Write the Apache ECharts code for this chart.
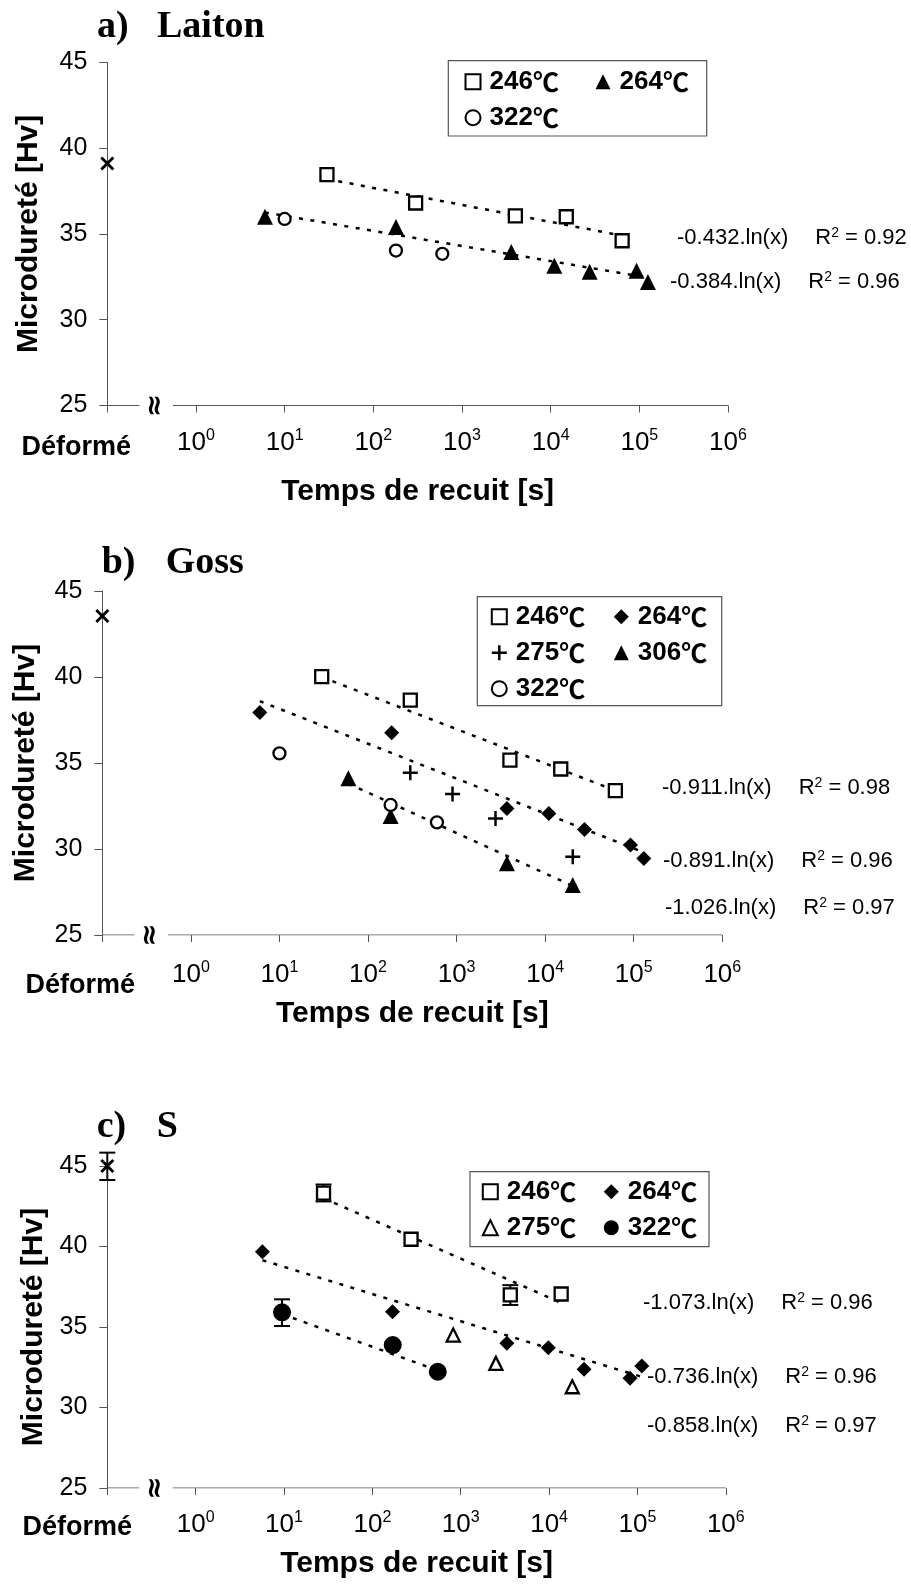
<!DOCTYPE html>
<html>
<head>
<meta charset="utf-8">
<title>Microdureté - temps de recuit</title>
<script src="https://cdn.jsdelivr.net/npm/echarts@6/dist/echarts.min.js"></script>
<style>
html, body { margin: 0; padding: 0; background: #fff; }
#chart { width: 911px; height: 1587px; }
</style>
</head>
<body>
<div id="chart"></div>
<script>
// ---- données : [temps (s), Hv] ----
// a) Laiton
const aDeforme = [[0.1, 39.1]];
const a246 = [[30, 38.45], [300, 36.8], [4000, 36.05], [15000, 36.0], [64000, 34.6]];
const a264 = [[6, 36.0], [180, 35.4], [3600, 33.95], [11000, 33.15], [27500, 32.8], [93000, 32.85], [125000, 32.2]];
const a322 = [[10, 35.87], [180, 34.03], [600, 33.84]];
const a246Trend = [[30, 38.2], [64000, 34.9]];
const a264Trend = [[6, 36.25], [125000, 32.45]];
const aEq = [['-0.432', '0.92'], ['-0.384', '0.96']];

// b) Goss
const bDeforme = [[0.1, 43.55]];
const b246 = [[30, 40.02], [300, 38.66], [4000, 35.17], [15000, 34.65], [62000, 33.39]];
const b264 = [[6, 37.93], [185, 36.76], [3700, 32.36], [11000, 32.07], [27800, 31.14], [92000, 30.23], [130000, 29.45]];
const b275 = [[300, 34.44], [900, 33.2], [2750, 31.78], [20500, 29.55]];
const b306 = [[60, 34.11], [180, 31.92], [3700, 29.17], [20500, 27.9]];
const b322 = [[10, 35.56], [180, 32.56], [600, 31.55]];
const b246Trend = [[30, 40.0], [62000, 33.4]];
const b264Trend = [[6, 38.6], [130000, 29.8]];
const b306Trend = [[60, 33.8], [20500, 27.85]];
const bEq = [['-0.911', '0.98'], ['-0.891', '0.96'], ['-1.026', '0.97']];

// c) S
const cDeforme = [[0.1, 45.0]];
const c246 = [[28, 43.32], [274, 40.45], [3640, 36.99], [13700, 37.05]];
const c264 = [[5.7, 39.68], [169, 35.95], [3330, 33.99], [9800, 33.71], [24900, 32.37], [82400, 31.81], [112000, 32.58]];
const c275 = [[822, 34.5], [2500, 32.74], [18300, 31.29]];
const c322 = [[9.5, 35.91], [170, 33.88], [550, 32.22]];
// barres d'erreur : [temps, min, max]
const cErr = [[0.1, 44.13, 45.83], [28, 42.8, 43.85], [3640, 36.37, 37.6], [9.5, 35.06, 36.72]];
const c246Trend = [[28, 43.0], [13700, 36.5]];
const c264Trend = [[5.7, 39.15], [112000, 31.9]];
const c322Trend = [[9.5, 35.8], [550, 32.3]];
const cEq = [['-1.073', '0.96'], ['-0.736', '0.96'], ['-0.858', '0.97']];

// axes
const yTicks = [25, 45, 5];          // min, max, pas
const xRange = [0.1, 1e6];
const xBreak = [0.23, 0.55];        // coupure de l'axe entre "Déformé" et 10^0
const deformeLabel = 'Déformé';

const FONT = "'Liberation Sans', Arial, 'Noto Sans CJK SC', sans-serif";
const CJK = "'Noto Sans CJK SC', sans-serif";
const SERIF = "'Liberation Serif', 'Times New Roman', serif";
const PLUS = 'path://M5,0H7V5H12V7H7V12H5V7H0V5H5Z';
const AXIS = '#555';

const panels = [
    {
        key: 'a', title: ['a)', 'Laiton'], titlePos: [97, 157, 27],
        grid: { left: 107.3, top: 62.3, width: 620.7, height: 343.2 },
        labelMargin: 22, defOffset: [-31, 42], yNameGap: 64, xNameGap: 71,
        legend: { left: 464.5, top: 67.7, textW: 95 }, box: [448.3, 60.7, 258.4, 75.3],
        points: [
            ['246', a246, 'rect', 13, true],
            ['264', a264, 'triangle', 16, false],
            ['322', a322, 'circle', 12, true]
        ],
        trends: [a246Trend, a264Trend], deforme: aDeforme, err: null,
        eq: aEq, eqPos: [[677, 238], [670, 282]]
    },
    {
        key: 'b', title: ['b)', 'Goss'], titlePos: [101.7, 165.7, 563],
        grid: { left: 102.3, top: 591, width: 620, height: 344 },
        labelMargin: 25, defOffset: [-22, 51], yNameGap: 62, xNameGap: 64,
        legend: { left: 490.8, top: 602.7, textW: 87 }, box: [477.3, 596.7, 244.4, 109],
        points: [
            ['246', b246, 'rect', 13, true],
            ['264', b264, 'diamond', 15, false],
            ['275', b275, PLUS, 15, false],
            ['306', b306, 'triangle', 16, false],
            ['322', b322, 'circle', 12, true]
        ],
        trends: [b246Trend, b264Trend, b306Trend], deforme: bDeforme, err: null,
        eq: bEq, eqPos: [[662, 788], [663, 861], [665, 908]]
    },
    {
        key: 'c', title: ['c)', 'S'], titlePos: [96.7, 156.7, 1127],
        grid: { left: 107.3, top: 1166, width: 618.5, height: 322 },
        labelMargin: 22, defOffset: [-30, 40], yNameGap: 55, xNameGap: 61,
        legend: { left: 481.8, top: 1177.7, textW: 86 }, box: [470, 1171.7, 239, 75],
        points: [
            ['246', c246, 'rect', 13, true],
            ['264', c264, 'diamond', 15, false],
            ['275', c275, 'triangle', 13, true],
            ['322', c322, 'circle', 18, false]
        ],
        trends: [c246Trend, c264Trend, c322Trend], deforme: cDeforme, err: cErr,
        eq: cEq, eqPos: [[643, 1303], [647, 1377], [647, 1426]]
    }
];

// barre d'erreur verticale avec deux petits traits
function errorBar(params, api) {
    const lo = api.coord([api.value(0), api.value(1)]);
    const hi = api.coord([api.value(0), api.value(2)]);
    const w = 8;
    const st = { stroke: '#000', lineWidth: 2 };
    return {
        type: 'group',
        children: [
            { type: 'line', shape: { x1: lo[0], y1: lo[1], x2: hi[0], y2: hi[1] }, style: st },
            { type: 'line', shape: { x1: lo[0] - w, y1: lo[1], x2: lo[0] + w, y2: lo[1] }, style: st },
            { type: 'line', shape: { x1: hi[0] - w, y1: hi[1], x2: hi[0] + w, y2: hi[1] }, style: st }
        ]
    };
}

const option = {
    animation: false,
    backgroundColor: '#fff',
    grid: [], xAxis: [], yAxis: [], legend: [], series: [], graphic: []
};

panels.forEach(function (p, i) {
    option.grid.push(p.grid);

    option.xAxis.push({
        type: 'log', logBase: 10, gridIndex: i,
        min: xRange[0], max: xRange[1], splitNumber: 10,
        axisLine: { show: false },
        splitLine: { show: false },
        axisTick: { show: true, length: 7, lineStyle: { color: AXIS } },
        axisLabel: {
            interval: 0, margin: p.labelMargin, color: '#000',
            showMinLabel: true, showMaxLabel: true, hideOverlap: false,
            // la graduation "Déformé" reçoit son texte à part (décalé à gauche)
            formatter: function (v) {
                const e = Math.round(Math.log10(v));
                return e < 0 ? '' : '{b|10}{s|' + e + '}';
            },
            rich: {
                b: { fontSize: 26, fontFamily: FONT, lineHeight: 30, color: '#000' },
                s: { fontSize: 16, fontFamily: FONT, lineHeight: 16, verticalAlign: 'top', color: '#000' }
            }
        },
        name: 'Temps de recuit [s]', nameLocation: 'middle', nameGap: p.xNameGap,
        nameTextStyle: { fontSize: 30, fontWeight: 'bold', fontFamily: FONT, color: '#000' }
    });

    option.yAxis.push({
        type: 'value', gridIndex: i,
        min: yTicks[0], max: yTicks[1], interval: yTicks[2],
        axisLine: { show: true, lineStyle: { color: AXIS, width: 1 } },
        axisTick: { show: true, length: 8, lineStyle: { color: AXIS } },
        splitLine: { show: false },
        axisLabel: { margin: 20, fontSize: 25, fontFamily: FONT, color: '#000' },
        name: 'Microdureté [Hv]', nameLocation: 'middle', nameGap: p.yNameGap,
        nameTextStyle: { fontSize: 30, fontWeight: 'bold', fontFamily: FONT, color: '#000' }
    });

    // axe des x en deux morceaux (coupure)
    [[xRange[0], xBreak[0]], [xBreak[1], xRange[1]]].forEach(function (seg) {
        option.series.push({
            type: 'line', xAxisIndex: i, yAxisIndex: i, silent: true, symbol: 'none', z: 1,
            lineStyle: { color: AXIS, width: 1 },
            data: [[seg[0], yTicks[0]], [seg[1], yTicks[0]]]
        });
    });
    option.series.push({
        type: 'scatter', xAxisIndex: i, yAxisIndex: i, silent: true, symbolSize: 1,
        itemStyle: { color: 'rgba(0,0,0,0)', opacity: 1 },
        label: { show: true, position: 'inside', formatter: '≈', rotate: 90, opacity: 1,
            fontSize: 28, fontWeight: 'bold', fontFamily: 'DejaVu Sans', color: '#000' },
        data: [[Math.sqrt(xBreak[0] * xBreak[1]), yTicks[0]]]
    });

    // texte "Déformé" sous la première graduation
    option.series.push({
        type: 'scatter', xAxisIndex: i, yAxisIndex: i, silent: true, symbolSize: 1,
        itemStyle: { color: 'rgba(0,0,0,0)', opacity: 1 },
        label: { show: true, position: 'inside', offset: p.defOffset, formatter: deformeLabel, opacity: 1,
            fontSize: 27, fontWeight: 'bold', fontFamily: FONT, color: '#000' },
        data: [[xRange[0], yTicks[0]]]
    });

    // droites de tendance
    p.trends.forEach(function (t) {
        option.series.push({
            type: 'line', xAxisIndex: i, yAxisIndex: i, silent: true, symbol: 'none', z: 2,
            lineStyle: { color: '#000', width: 2.5, type: [4, 7.5] },
            data: t
        });
    });

    if (p.err) {
        option.series.push({
            type: 'custom', xAxisIndex: i, yAxisIndex: i, silent: true, z: 2,
            renderItem: errorBar, encode: { x: 0, y: [1, 2] }, data: p.err
        });
    }

    // état déformé
    option.series.push({
        name: p.key + '_def', type: 'scatter', xAxisIndex: i, yAxisIndex: i, z: 3,
        symbol: PLUS, symbolRotate: 45, symbolSize: 17,
        itemStyle: { color: '#000', opacity: 1 }, data: p.deforme
    });

    const names = [];
    p.points.forEach(function (s) {
        const name = p.key + '_' + s[0];
        names.push(name);
        option.series.push({
            name: name, type: 'scatter', xAxisIndex: i, yAxisIndex: i, z: 3,
            symbol: s[2], symbolSize: s[3],
            itemStyle: s[4]
                ? { color: '#fff', borderColor: '#000', borderWidth: 2.3, opacity: 1 }
                : { color: '#000', borderWidth: 0, opacity: 1 },
            data: s[1]
        });
    });

    option.legend.push({
        data: names, selectedMode: false, orient: 'horizontal',
        left: p.legend.left, top: p.legend.top, width: 2 * (27 + p.legend.textW) + 16,
        padding: 0, itemGap: 8, itemWidth: 15, itemHeight: 15,
        itemStyle: { opacity: 1 },
        formatter: function (n) { return '{n|' + n.split('_')[1] + '}{c|℃}'; },
        textStyle: {
            fontSize: 26, fontWeight: 'bold', fontFamily: FONT, color: '#000',
            width: p.legend.textW + 3, lineHeight: 28, padding: [0, 0, 0, 4],
            rich: {
                n: { fontSize: 26, fontWeight: 'bold', fontFamily: FONT, color: '#000', lineHeight: 28 },
                c: { fontSize: 26, fontWeight: 'bold', fontFamily: CJK, color: '#000', lineHeight: 28 }
            }
        }
    });

    option.graphic.push({
        type: 'rect', silent: true,
        shape: { x: p.box[0], y: p.box[1], width: p.box[2], height: p.box[3] },
        style: { fill: 'none', stroke: AXIS, lineWidth: 1.2 }
    });

    // titre du panneau
    option.graphic.push({
        type: 'text', x: p.titlePos[0], y: p.titlePos[2], silent: true,
        style: { text: p.title[0], font: 'bold 38px ' + SERIF, fill: '#000', verticalAlign: 'middle' }
    });
    option.graphic.push({
        type: 'text', x: p.titlePos[1], y: p.titlePos[2], silent: true,
        style: { text: p.title[1], font: 'bold 38px ' + SERIF, fill: '#000', verticalAlign: 'middle' }
    });

    // équations des tendances
    p.eq.forEach(function (e, k) {
        option.graphic.push({
            type: 'text', x: p.eqPos[k][0], y: p.eqPos[k][1], silent: true,
            style: {
                text: '{t|' + e[0] + '.ln(x)}{r|R}{s|2}{t| = ' + e[1] + '}',
                verticalAlign: 'middle',
                rich: {
                    t: { fontSize: 22, fontFamily: FONT, fill: '#000', lineHeight: 24 },
                    r: { fontSize: 22, fontFamily: FONT, fill: '#000', lineHeight: 24, padding: [0, 0, 0, 27] },
                    s: { fontSize: 14, fontFamily: FONT, fill: '#000', lineHeight: 14, verticalAlign: 'top' }
                }
            }
        });
    });
});

const chart = echarts.init(document.getElementById('chart'), null, { renderer: 'canvas' });
chart.setOption(option);
</script>
</body>
</html>
